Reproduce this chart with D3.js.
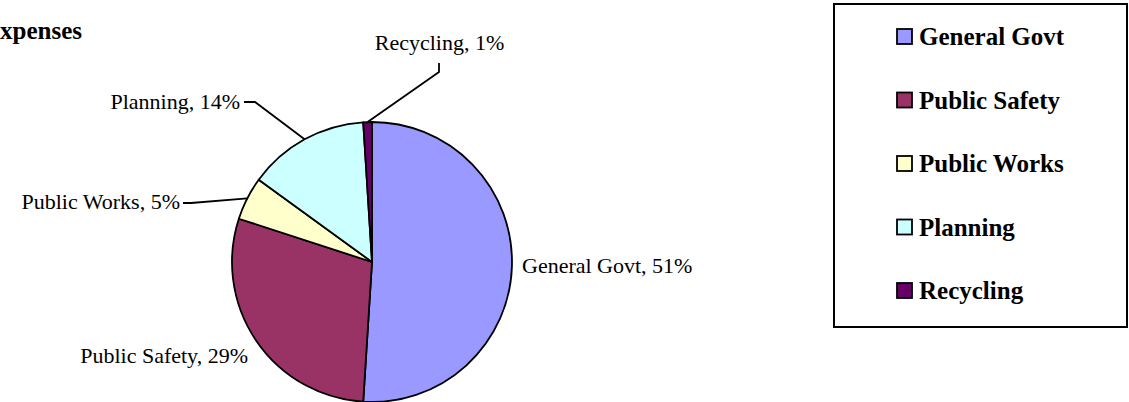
<!DOCTYPE html>
<html>
<head>
<meta charset="utf-8">
<script src="https://cdn.jsdelivr.net/npm/d3@7/dist/d3.min.js"></script>
<style>
  html, body { margin: 0; padding: 0; background: #fff; }
  svg { display: block; }
  text { font-family: "Liberation Serif", "Times New Roman", serif; fill: #000; }
</style>
</head>
<body>
<svg id="chart" width="1129" height="402"></svg>
<script>
// ---- data ----
const categories = ["General Govt", "Public Safety", "Public Works", "Planning", "Recycling"];
const values = [51, 29, 5, 14, 1];
const colors = ["#9999FF", "#993366", "#FFFFCC", "#CCFFFF", "#660066"];
const titleText = "xpenses";

// ---- layout ----
const W = 1129, H = 402;
const cx = 372, cy = 262, r = 140;
// label placement: anchor point, text anchor, leader line (elbow) definition
const labelLayout = [
  { x: 522, y: 273, anchor: "start", leader: null },
  { x: 248, y: 363, anchor: "end", leader: null },
  { x: 180, y: 209, anchor: "end", leader: [[183, 203], [191, 203]] },
  { x: 240, y: 109, anchor: "end", leader: [[244, 102], [255, 102]] },
  { x: 439.5, y: 50, anchor: "middle", leader: [[439, 63], [439, 72]] }
];

const svg = d3.select("#chart");

// title (partially cut off on the left in the original)
svg.append("text")
  .attr("x", 0).attr("y", 39)
  .attr("font-size", 25).attr("font-weight", "bold")
  .text(titleText);

const data = categories.map((c, i) => ({ name: c, value: values[i], color: colors[i] }));

const pie = d3.pie().sort(null).value(d => d.value);
const arcs = pie(data);
const arc = d3.arc().innerRadius(0).outerRadius(r);

const g = svg.append("g").attr("transform", `translate(${cx},${cy})`);

g.selectAll("path.slice")
  .data(arcs)
  .join("path")
  .attr("class", "slice")
  .attr("d", arc)
  .attr("fill", d => d.data.color)
  .attr("stroke", "#000")
  .attr("stroke-width", 1.8)
  .attr("stroke-linejoin", "round");

// labels + leader lines
arcs.forEach((a, i) => {
  const L = labelLayout[i];
  const mid = (a.startAngle + a.endAngle) / 2;
  const ex = cx + r * Math.sin(mid);
  const ey = cy - r * Math.cos(mid);
  if (L.leader) {
    const pts = L.leader.concat([[ex, ey]]);
    svg.append("path")
      .attr("d", d3.line()(pts))
      .attr("fill", "none")
      .attr("stroke", "#000")
      .attr("stroke-width", 1.8);
  }
  svg.append("text")
    .attr("x", L.x).attr("y", L.y)
    .attr("text-anchor", L.anchor)
    .attr("font-size", 22)
    .text(`${a.data.name}, ${a.data.value}%`);
});

// legend
const legend = svg.append("g");
legend.append("rect")
  .attr("x", 834).attr("y", 4)
  .attr("width", 293).attr("height", 323)
  .attr("fill", "#fff")
  .attr("stroke", "#000")
  .attr("stroke-width", 2);

const rowY = d3.scalePoint().domain(categories).range([36.5, 290.5]);

const items = legend.selectAll("g.item")
  .data(data)
  .join("g")
  .attr("class", "item")
  .attr("transform", d => `translate(0,${rowY(d.name)})`);

items.append("rect")
  .attr("x", 897).attr("y", -7.5)
  .attr("width", 15).attr("height", 15)
  .attr("fill", d => d.color)
  .attr("stroke", "#000")
  .attr("stroke-width", 1.8);

items.append("text")
  .attr("x", 919).attr("y", 8.5)
  .attr("font-size", 25)
  .attr("font-weight", "bold")
  .text(d => d.name);
</script>
</body>
</html>
